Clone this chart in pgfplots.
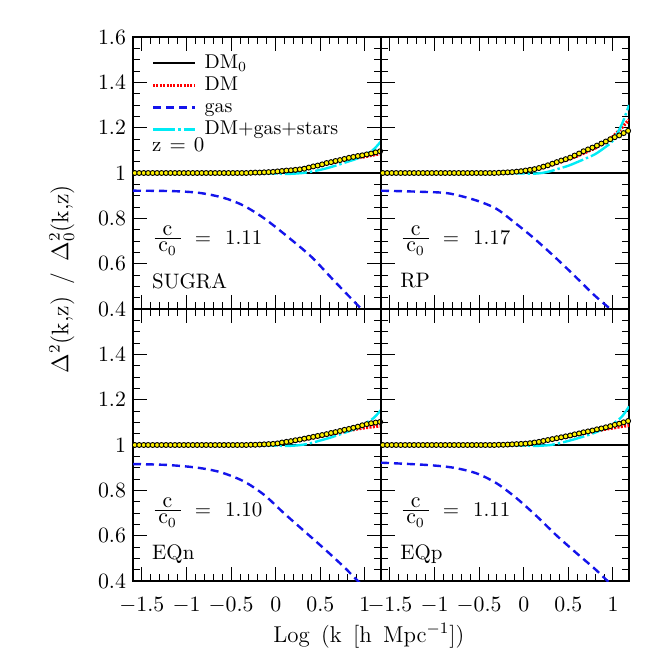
\documentclass[border=0pt]{standalone}
\usepackage{pgfplots}
\pgfplotsset{compat=1.18}
\usepackage{pgfplotstable}
\usepgfplotslibrary{groupplots}

\definecolor{gasblue}{RGB}{20,20,235}
\definecolor{starcyan}{RGB}{0,235,245}

% DM points (yellow circles), one column per model
\pgfplotstableread{
x A B C D
-1.58 1 1 1 1
-1.53 1 1 1 1
-1.48 1 1 1 1
-1.43 1 1 1 1
-1.38 1 1 1 1
-1.33 1 1 1 1
-1.28 1 1 1 1
-1.23 1 1 1 1
-1.18 1 1 1 1
-1.13 1 1 1 1
-1.08 1 1 1 1
-1.03 1 1 1 1
-0.98 1 1 1 1
-0.93 1 1 1 1
-0.88 1 1 1 1
-0.83 1 1 1 1
-0.78 1 1 1 1
-0.73 1 1 1 1
-0.68 1 1 1 1
-0.63 1 1 1 1
-0.58 1 1 1 1
-0.53 1 1 1 1
-0.48 1 1 1 1
-0.43 1 1 1 1
-0.38 1 1 1 1
-0.33 1 1 1 1
-0.28 1.001 1.001 1.001 1.001
-0.23 1.002 1.002 1.001 1.001
-0.18 1.002 1.003 1.002 1.002
-0.13 1.003 1.004 1.003 1.003
-0.08 1.004 1.006 1.004 1.004
-0.03 1.005 1.008 1.005 1.005
0.02 1.007 1.011 1.007 1.006
0.07 1.009 1.014 1.011 1.008
0.12 1.011 1.017 1.014 1.011
0.17 1.012 1.022 1.017 1.014
0.22 1.014 1.028 1.021 1.018
0.27 1.016 1.034 1.024 1.022
0.32 1.019 1.041 1.028 1.026
0.37 1.024 1.048 1.032 1.030
0.42 1.029 1.055 1.036 1.034
0.47 1.033 1.061 1.040 1.038
0.52 1.038 1.068 1.044 1.042
0.57 1.044 1.077 1.048 1.047
0.62 1.048 1.086 1.053 1.051
0.67 1.053 1.096 1.057 1.056
0.72 1.057 1.104 1.062 1.060
0.77 1.062 1.112 1.067 1.064
0.82 1.067 1.121 1.071 1.069
0.87 1.071 1.130 1.076 1.073
0.92 1.075 1.139 1.081 1.078
0.97 1.078 1.149 1.087 1.083
1.02 1.082 1.158 1.092 1.089
1.07 1.086 1.166 1.096 1.094
1.12 1.091 1.176 1.099 1.100
1.17 1.096 1.186 1.102 1.106
}\circles

% DM (red)
\pgfplotstableread{
x A B C D
-1.6 1 1 1 1
-0.4 1 1 1 1
-0.2 1.001 1.002 1.001 1.001
0 1.004 1.007 1.004 1.004
0.2 1.011 1.023 1.016 1.014
0.4 1.024 1.047 1.031 1.030
0.6 1.043 1.075 1.046 1.045
0.8 1.059 1.110 1.062 1.061
0.9 1.066 1.133 1.070 1.069
1.0 1.072 1.160 1.076 1.075
1.1 1.080 1.200 1.081 1.082
1.18 1.086 1.235 1.084 1.086
}\dmred

% DM+gas+stars (cyan)
\pgfplotstableread{
x A B C D
-1.6 1 1 1 1
-0.3 1 1 1 1
-0.1 0.999 0.999 0.999 0.999
0.1 0.996 0.997 0.996 0.996
0.2 0.997 1.000 0.997 0.997
0.3 1.000 1.008 1.001 1.000
0.4 1.006 1.020 1.009 1.008
0.5 1.014 1.032 1.020 1.018
0.6 1.024 1.048 1.031 1.029
0.7 1.036 1.065 1.044 1.041
0.8 1.049 1.083 1.058 1.055
0.9 1.062 1.110 1.073 1.072
1.0 1.080 1.143 1.095 1.094
1.1 1.105 1.215 1.120 1.125
1.18 1.140 1.300 1.155 1.170
}\dmall

\pgfplotsset{
  panel/.style={
    scale only axis, width=124bp, height=136bp,
    xmin=-1.6, xmax=1.18, ymin=0.4, ymax=1.6,
    xtick={-1.5,-1,-0.5,0,0.5,1},
    ytick={0.4,0.6,0.8,1,1.2,1.4,1.6},
    minor x tick num=4, minor y tick num=3,
    major tick length=7bp, minor tick length=3.5bp,
    every tick/.style={black, line width=0.5bp},
    axis line style={line width=0.8bp},
    tick label style={font=\fontsize{11}{12}\selectfont},
    xticklabel style={yshift=-4.5bp},
  },
  dm0/.style={black, line width=1bp},
  dm/.style={red, line width=1.6bp, dash pattern=on 1bp off 0.7bp},
  circ/.style={only marks, mark=*, mark size=1.25bp,
    mark options={fill=yellow, draw=black, line width=0.45bp}},
  gas/.style={gasblue, line width=1.2bp, dash pattern=on 4bp off 2.5bp},
  stars/.style={starcyan, line width=1.2bp, dash pattern=on 11bp off 1.5bp on 1.2bp off 1.5bp},
}
\tikzset{txt/.style={anchor=west, inner sep=0pt, font=\fontsize{10.5}{12}\selectfont}}
\newcommand{\lbl}{\fontsize{10}{12}\selectfont}
\newcommand{\ratio}[1]{$\frac{\textstyle\mathrm{c}}{\textstyle\,\mathrm{c}_0\,}$\hspace{6bp}=\hspace{7bp}#1}

\begin{document}
\begin{tikzpicture}
\begin{groupplot}[
  group style={group size=2 by 2, horizontal sep=0pt, vertical sep=0pt,
    xticklabels at=edge bottom, yticklabels at=edge left},
  panel]

\nextgroupplot[
  ylabel={$\Delta^2$(k,z)\ \,/\ \,$\Delta_0^2$(k,z)},
  ylabel style={at={(axis description cs:-0.287,0.11)}, anchor=center,
    font=\fontsize{12}{14}\selectfont},
  legend style={draw=none, fill=none, at={(0.073,0.945)}, anchor=north west,
    inner sep=0pt, row sep=0pt, column sep=3bp, font=\lbl,
    nodes={inner sep=1bp, text height=7bp, text depth=2bp}},
  legend cell align=left,
  legend image code/.code={\draw[#1] (0bp,0bp) -- (21bp,0bp);}]
\coordinate (tl) at (rel axis cs:0,1);
\addplot[dm0] coordinates {(-1.6,1) (1.18,1)}; \addlegendentry{DM$_0$}
\addplot[dm] table[y=A] {\dmred}; \addlegendentry{DM}
\addplot[circ, forget plot] table[y=A] {\circles};
\addplot[gas, smooth] coordinates {(-1.60,0.922) (-1.15,0.920) (-0.85,0.912) (-0.58,0.890) (-0.36,0.856) (-0.13,0.800) (0.13,0.720) (0.40,0.630) (0.66,0.522) (0.96,0.400) (1.0,0.385)};
\addlegendentry{gas}
\addplot[stars, smooth] table[y=A] {\dmall}; \addlegendentry{DM+gas+stars}
\node[txt] at (rel axis cs:0.076,0.603) {z\hspace{4bp}=\hspace{4bp}0};
\node[txt] at (rel axis cs:0.076,0.251) {\ratio{1.11}};
\node[txt] at (rel axis cs:0.076,0.103) {SUGRA};

\nextgroupplot
\addplot[dm0] coordinates {(-1.6,1) (1.18,1)};
\addplot[dm] table[y=B] {\dmred};
\addplot[circ] table[y=B] {\circles};
\addplot[gas, smooth] coordinates {(-1.60,0.922) (-1.14,0.917) (-0.84,0.910) (-0.54,0.880) (-0.31,0.843) (-0.13,0.790) (0.10,0.717) (0.33,0.636) (0.55,0.554) (0.78,0.465) (0.97,0.400) (1.0,0.390)};
\addplot[stars, smooth] table[y=B] {\dmall};
\node[txt] at (rel axis cs:0.076,0.251) {\ratio{1.17}};
\node[txt] at (rel axis cs:0.076,0.103) {RP};

\nextgroupplot[
  yticklabels={$0.4$,$0.6$,$0.8$,$1$,$1.2$,$1.4$,{}},
  xlabel={Log\ \,(k\ \,[h\ \,Mpc$^{-1}$])},
  xlabel style={at={(axis description cs:0.951,-0.2)}, anchor=center,
    font=\fontsize{11.5}{13}\selectfont}]
\addplot[dm0] coordinates {(-1.6,1) (1.18,1)};
\addplot[dm] table[y=C] {\dmred};
\addplot[circ] table[y=C] {\circles};
\addplot[gas, smooth] coordinates {(-1.60,0.916) (-1.22,0.912) (-0.88,0.900) (-0.62,0.880) (-0.36,0.840) (-0.13,0.780) (0.09,0.700) (0.32,0.620) (0.55,0.540) (0.77,0.460) (0.92,0.400) (0.95,0.390)};
\addplot[stars, smooth] table[y=C] {\dmall};
\node[txt] at (rel axis cs:0.076,0.251) {\ratio{1.10}};
\node[txt] at (rel axis cs:0.076,0.100) {EQn};

\nextgroupplot
\coordinate (br) at (rel axis cs:1,0);
\addplot[dm0] coordinates {(-1.6,1) (1.18,1)};
\addplot[dm] table[y=D] {\dmred};
\addplot[circ] table[y=D] {\circles};
\addplot[gas, smooth] coordinates {(-1.60,0.922) (-1.09,0.912) (-0.79,0.900) (-0.53,0.875) (-0.30,0.830) (-0.08,0.765) (0.15,0.684) (0.37,0.600) (0.60,0.520) (0.79,0.456) (0.94,0.400) (0.97,0.390)};
\addplot[stars, smooth] table[y=D] {\dmall};
\node[txt] at (rel axis cs:0.076,0.251) {\ratio{1.11}};
\node[txt] at (rel axis cs:0.076,0.100) {EQp};
\end{groupplot}
\path ([shift={(-66.5bp,18.5bp)}]tl) rectangle ([shift={(17.5bp,-41.5bp)}]br);
\end{tikzpicture}
\end{document}
